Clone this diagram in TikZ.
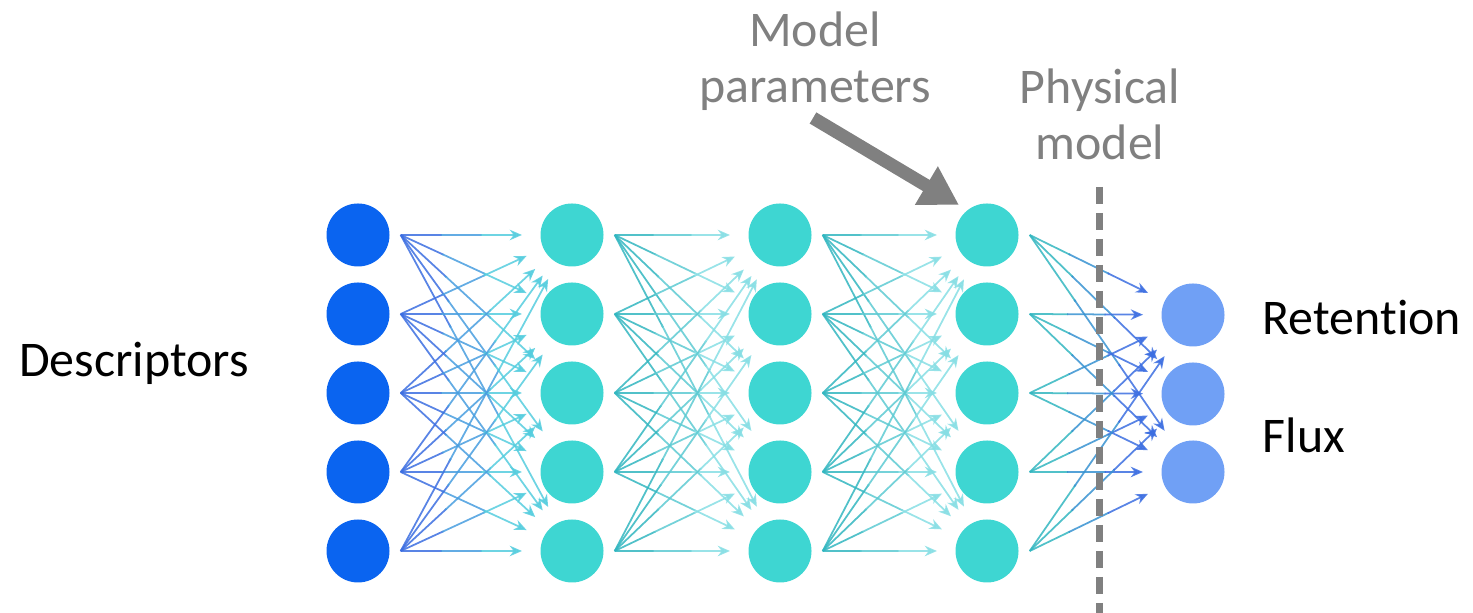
\documentclass[tikz,border=0pt]{standalone}
\usepackage{fontspec}
\setmainfont[Ligatures=NoCommon]{Carlito}
\usepackage{tikz}
\usetikzlibrary{arrows.meta, positioning, calc}

\definecolor{inblue}{RGB}{10,100,240}
\definecolor{hidcyan}{RGB}{62,214,210}
\definecolor{outblue}{RGB}{112,160,245}
\definecolor{lblgray}{RGB}{128,128,128}
\definecolor{wblue}{RGB}{60,110,225}
\definecolor{wcyan}{RGB}{85,205,222}
\definecolor{wteal}{RGB}{50,182,192}
\definecolor{wlight}{RGB}{135,222,228}

\tikzset{
  neuron/.style={circle, minimum size=0.63cm, inner sep=0pt},
  weight/.style={line width=0.5pt, opacity=0.85},
  weighttip/.style={weight, -{Stealth[length=3.5pt,width=3pt]}},
  lbl/.style={font=\fontsize{14.2}{16.2}\selectfont, inner sep=0pt},
}

% one weight, from the right of #1 towards #2, fading colour #3 -> #4
\newcommand{\weightline}[4]{%
  \path ([xshift=0.105cm]#1.east) coordinate (ws)
        ($(#2.center)!0.5cm!(ws)$) coordinate (we);
  \draw[weight, #3] (ws) -- ($(ws)!0.34!(we)$);
  \draw[weight, #3!50!#4] ($(ws)!0.33!(we)$) -- ($(ws)!0.67!(we)$);
  \draw[weighttip, #4] ($(ws)!0.66!(we)$) -- (we);
}

\begin{document}
\begin{tikzpicture}
  \useasboundingbox (0,0) rectangle (14.73,6.13);

  % Layers
  \foreach \i/\y in {1/3.78, 2/2.99, 3/2.20, 4/1.41, 5/0.62} {
    \node[neuron, fill=inblue] (in-\i) at (3.58,\y) {};
    \node[neuron, fill=hidcyan] (h2-\i) at (5.72,\y) {};
    \node[neuron, fill=hidcyan] (h3-\i) at (7.80,\y) {};
    \node[neuron, fill=hidcyan] (h4-\i) at (9.87,\y) {};
  }
  \foreach \j/\y in {1/2.98, 2/2.19, 3/1.41}
    \node[neuron, fill=outblue] (out-\j) at (11.93,\y) {};

  % Weights
  \foreach \i in {1,...,5} {
    \foreach \k in {1,...,5} {
      \weightline{in-\i}{h2-\k}{wblue}{wcyan}
      \weightline{h2-\i}{h3-\k}{wteal}{wlight}
      \weightline{h3-\i}{h4-\k}{wteal}{wlight}
    }
    \foreach \j in {1,2,3} {
      \weightline{h4-\i}{out-\j}{wteal}{wblue}
    }
  }

  % Physical model boundary
  \coordinate (cut-top) at (10.99,4.26);
  \coordinate (cut-bot) at (10.99,0);
  \draw[lblgray, line width=0.07cm, dash pattern=on 0.17cm off 0.09cm] (cut-top) -- (cut-bot);

  % Labels
  \node[lbl, anchor=base] (desc) at (1.34,2.36) {Descriptors};
  \node[lbl, anchor=base west] (ret) at (12.62,2.78) {Retention};
  \node[lbl, anchor=base west] (flux) at (12.62,1.60) {Flux};
  \node[lbl, lblgray, align=center, anchor=base] (params) at (8.15,5.10) {Model\\parameters};
  \node[lbl, lblgray, align=center, anchor=base] (phys) at (11.00,4.53) {Physical\\model};

  % Arrow onto the last hidden layer
  \coordinate (ptail) at (8.13,4.95);
  \draw[lblgray, line width=0.13cm, -{Triangle[length=0.38cm, width=0.42cm]}]
    (ptail) -- ($(h4-1.center)+(-0.28,0.30)$);
\end{tikzpicture}
\end{document}
